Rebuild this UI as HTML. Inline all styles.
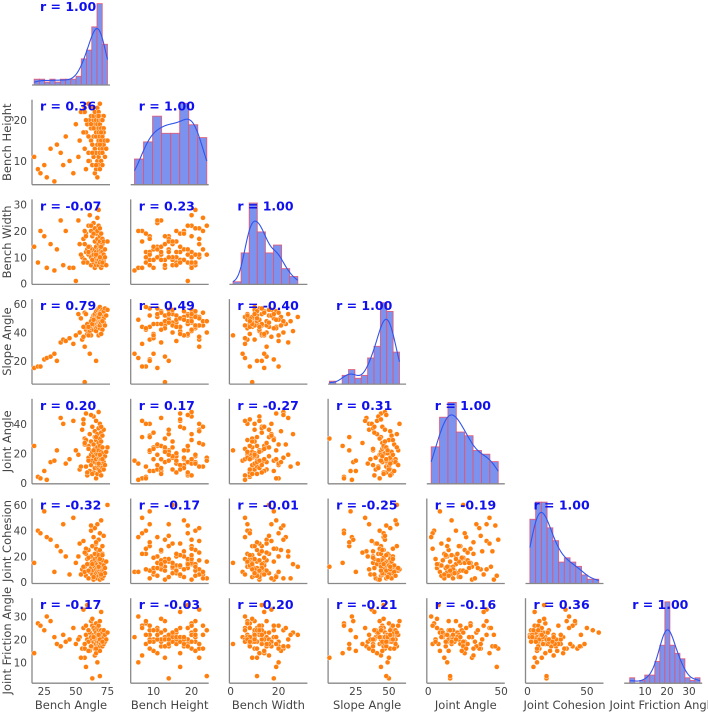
<!DOCTYPE html>
<html><head><meta charset="utf-8">
<style>
html,body{margin:0;padding:0;background:#fff;}
svg{display:block;font-family:"DejaVu Sans","Liberation Sans",sans-serif;}
</style></head>
<body>
<svg id="chart" width="708" height="712" viewBox="0 0 708 712" xmlns="http://www.w3.org/2000/svg"></svg>
<script>
const variables = ["Bench Angle","Bench Height","Bench Width","Slope Angle","Joint Angle","Joint Cohesion","Joint Friction Angle"];
const benchAngle = [17,20,22,25,27,30,33,35,38,40,42,45,48,50,53,55,56,57,58,58,59,60,60,61,61,62,62,62,63,63,63,64,64,64,64,65,65,65,65,65,66,66,66,66,66,67,67,67,67,67,67,68,68,68,68,68,68,68,69,69,69,69,69,69,69,70,70,70,70,70,54,52,56,71,71,71,59,71,57,71,72,72,72,60,72,58,73,73,62,74,60,57,63,64,66,68,69,70,71,75];
const benchHeight = [11,8,7,9,6,13,5,14,12,9,16,10,7,19,15,22,22,13,8,17,19,24,12,20,10,21,15,18,23,9,14,20,16,11,21,7,18,13,22,19,16,8,20,12,17,23,10,19,14,21,6,18,11,22,15,20,9,17,13,24,12,19,16,8,21,14,20,10,18,15,22,11,17,13,20,9,19,16,23,12,18,14,21,10,17,20,15,11,19,13,16,22,12,18,9,21,14,17,20,15];
const benchWidth = [14,8,20,18,6,15,5,13,24,7,20,6,6,1,15,10,17,9,12,19,8,22,11,26,14,7,10,20,13,9,18,12,8,23,11,16,9,6,21,13,10,19,7,14,12,25,9,11,17,8,20,13,10,15,7,22,12,9,18,11,14,8,16,10,21,12,6,13,19,9,11,24,8,15,10,17,13,7,20,12,9,16,11,14,8,18,10,13,22,7,12,15,9,19,11,28,10,14,8,16];
const slopeAngle = [15,16,16,21,22,23,25,20,33,35,34,36,32,38,40,35,37,5,42,44,39,40,46,41,25,43,47,38,45,44,50,42,48,46,52,44,49,45,51,53,47,43,50,55,41,48,46,52,56,44,49,38,51,45,53,47,57,50,43,48,54,46,52,58,45,49,51,39,55,47,50,53,44,48,56,52,46,49,54,42,51,47,55,38,50,53,45,57,48,52,44,30,46,49,20,51,53,39,48,56];
const jointAngle = [25,4,3,8,2,14,15,22,44,40,13,16,42,22,9,36,40,30,11,47,5,17,25,33,8,19,28,12,38,21,15,45,7,26,18,31,10,23,35,14,20,3,29,16,42,11,24,6,33,19,13,37,9,27,17,48,22,12,30,15,8,25,18,40,14,21,5,34,16,28,11,19,43,24,13,32,7,20,26,10,17,36,14,23,9,29,18,12,46,21,15,27,6,22,31,13,19,38,16,24];
const jointCohesion = [15,40,38,55,35,33,8,28,24,45,20,6,50,15,30,10,32,12,22,5,18,3,25,14,8,40,11,20,6,28,16,2,13,35,9,22,4,18,42,12,7,26,15,10,30,3,19,11,45,14,8,24,5,17,12,33,9,21,2,16,13,38,7,10,25,4,18,11,48,15,6,20,12,9,28,3,14,22,8,17,10,36,5,19,13,26,7,11,44,16,9,23,14,4,31,12,18,6,21,60];
const jointFriction = [14,27,26,24,30,28,21,18,17,22,19,20,25,18,21,16,33,12,22,8,20,24,19,23,15,28,21,17,26,20,3,22,18,25,19,13,21,24,16,20,23,18,27,20,14,22,19,25,17,21,10,20,24,18,22,16,26,19,21,4,23,17,20,28,15,22,19,24,18,21,12,20,25,17,22,19,35,21,16,23,20,18,24,15,21,26,19,22,17,20,24,18,29,21,16,22,20,32,19,23];
const rLabels = [
 ["1.00"],
 ["0.36","1.00"],
 ["-0.07","0.23","1.00"],
 ["0.79","0.49","-0.40","1.00"],
 ["0.20","0.17","-0.27","0.31","1.00"],
 ["-0.32","-0.17","-0.01","-0.25","-0.19","1.00"],
 ["-0.17","-0.03","0.20","-0.21","-0.16","0.36","1.00"]
];
const xTicks = [[25,50,75],[10,20],[0,20],[25,50],[0,50],[0,50],[10,20,30]];
const yTicks = [[],[10,20],[0,10,20,30],[20,40,60],[0,20,40],[0,20,40,60],[10,20,30]];
const binCounts = [14,8,8,11,8,12,14];
const xDomains = [[15.3,77],[4,24.5],[-0.5,32],[4,63],[-1,52.5],[-1.7,64],[0.5,36]];
const yDomains = [[0,1],[4.2,25],[-0.3,32],[3.6,63.6],[-0.7,57],[-1,65],[0.9,38]];

const data = [benchAngle,benchHeight,benchWidth,slopeAngle,jointAngle,jointCohesion,jointFriction];
const N = Math.min(...data.map(d=>d.length));
const NS = "http://www.w3.org/2000/svg";
const svg = document.getElementById('chart');
const PW = 78, PH = 85;
function left(j){return 32 + 98.7*j;}
function bottom(i){return 85 + 99.7*i;}
function mk(tag, attrs, parent){const e=document.createElementNS(NS,tag);for(const k in attrs)e.setAttribute(k,attrs[k]);(parent||svg).appendChild(e);return e;}
function xScale(j,v){const d=xDomains[j];return left(j)+(v-d[0])/(d[1]-d[0])*PW;}
function yScale(i,v){const d=yDomains[i];return bottom(i)-(v-d[0])/(d[1]-d[0])*PH;}

for(let i=0;i<7;i++){
 for(let j=0;j<=i;j++){
  const g=mk('g',{});
  
  
  const L=left(j), B=bottom(i);
  if(i===j){
   const vals=data[j].slice(0,N);
   const mn=Math.min(...vals), mx=Math.max(...vals), nb=binCounts[j], bw=(mx-mn)/nb;
   const counts=new Array(nb).fill(0);
   vals.forEach(v=>{let k=Math.floor((v-mn)/bw);if(k>=nb)k=nb-1;counts[k]++;});
   const mean=vals.reduce((a,b)=>a+b,0)/N;
   const sd=Math.sqrt(vals.reduce((a,b)=>a+(b-mean)*(b-mean),0)/(N-1));
   const h=sd*Math.pow(N,-0.2);
   const kde=[];
   for(let s=0;s<=80;s++){const x=mn+(mx-mn)*s/80;let dsum=0;vals.forEach(v=>{const z=(x-v)/h;dsum+=Math.exp(-0.5*z*z);});kde.push([x,dsum/(N*h*Math.sqrt(2*Math.PI))*N*bw]);}
   const ymax=Math.max(Math.max(...counts),Math.max(...kde.map(k=>k[1])))*1.02;
   const ys=c=>B-c/ymax*(PH-2);
   counts.forEach((c,k)=>{
    const x0=xScale(j,mn+k*bw), x1=xScale(j,mn+(k+1)*bw);
    const r=mk('rect',{x:x0,y:ys(c),width:x1-x0,height:B-ys(c),fill:'#7b93ee',stroke:'#e8506a','stroke-width':0.9,'stroke-opacity':0.85},g);
    
    
   });
   const p=mk('path',{d:kde.map((k,n)=>(n?'L':'M')+xScale(j,k[0]).toFixed(2)+','+ys(k[1]).toFixed(2)).join(''),fill:'none',stroke:'#2e55ee','stroke-width':1.1},g);
   
   
  } else {
   const xs=data[j], yv=data[i];
   const ax=mk('line',{x1:L,y1:B-PH,x2:L,y2:B,stroke:'#888','stroke-width':1.3},g);
   
   
   for(let n=0;n<N;n++){
    const c=mk('circle',{cx:xScale(j,xs[n]),cy:yScale(i,yv[n]),r:2.5,fill:'#ff7f0e',stroke:'#fff','stroke-width':0.4},g);
    
    
   }
  }
  const bl=mk('line',{x1:L,y1:B,x2:L+PW,y2:B,stroke:'#888','stroke-width':1.3},g);
  
  
  const t=mk('text',{x:L+8,y:B-PH+11,'font-size':12.5,'font-weight':'bold',fill:'#1010ee'},g);
  t.textContent='r = '+rLabels[i][j];
  
  
 }
}
for(let i=1;i<7;i++){
 yTicks[i].forEach(v=>{
  const t=mk('text',{x:27,y:yScale(i,v)+4,'font-size':10.5,fill:'#444','text-anchor':'end'});
  t.textContent=v;
  
  
 });
 const cy=bottom(i)-PH/2;
 const lab=mk('text',{x:11,y:cy,'font-size':11.5,fill:'#444','text-anchor':'middle',transform:'rotate(-90 11 '+cy+')'});
 lab.textContent=variables[i];
 
 
}
for(let j=0;j<7;j++){
 xTicks[j].forEach(v=>{
  const t=mk('text',{x:xScale(j,v),y:695,'font-size':10.5,fill:'#444','text-anchor':'middle'});
  t.textContent=v;
  
  
 });
 const lab=mk('text',{x:left(j)+PW/2,y:709,'font-size':11.5,fill:'#444','text-anchor':'middle'});
 lab.textContent=variables[j];
 
 
}
</script>
</body></html>
